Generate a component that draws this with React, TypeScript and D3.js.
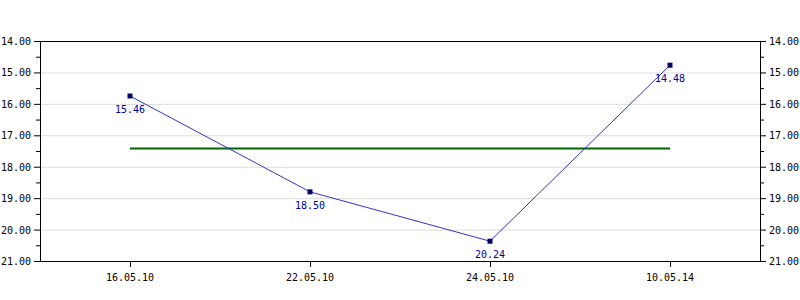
import React from "react";
import * as d3 from "d3";

const categories = ["16.05.10", "22.05.10", "24.05.10", "10.05.14"];
const values = [15.75, 18.8, 20.37, 14.77];
const pointLabels = ["15.46", "18.50", "20.24", "14.48"];
const yTicks = [14, 15, 16, 17, 18, 19, 20, 21];
const yMinorTicks = [14.5, 15.5, 16.5, 17.5, 18.5, 19.5, 20.5];

const W = 800;
const H = 300;
const M = { left: 40, right: 40, top: 41, bottom: 39 };

export default function App() {
  const x = d3
    .scalePoint<string>()
    .domain(categories)
    .range([M.left, W - M.right])
    .padding(0.5);
  const y = d3.scaleLinear().domain([14, 21]).range([M.top, H - M.bottom]);
  const line = d3
    .line<number>()
    .x((_, i) => x(categories[i]) as number)
    .y((d) => y(d));
  const avg = d3.mean(values) as number;
  const font = "'DejaVu Sans Mono', monospace";
  const x0 = M.left;
  const x1 = W - M.right;
  const yb = H - M.bottom;

  return (
    <svg
      width={W}
      height={H}
      style={{ position: "absolute", left: 0, top: 0, background: "#fff" }}
      fontFamily={font}
      fontSize={10}
    >
      {yTicks.slice(1, -1).map((t) => (
        <line key={"g" + t} x1={x0} x2={x1} y1={y(t) + 0.5} y2={y(t) + 0.5} stroke="#dcdcdc" />
      ))}
      {/* frame */}
      <line x1={x0 + 0.5} x2={x0 + 0.5} y1={M.top} y2={yb} stroke="#000" />
      <line x1={x1 + 0.5} x2={x1 + 0.5} y1={M.top} y2={yb} stroke="#000" />
      <line x1={x0} x2={x1 + 1} y1={M.top + 0.5} y2={M.top + 0.5} stroke="#000" />
      <line x1={x0} x2={x1 + 1} y1={yb + 0.5} y2={yb + 0.5} stroke="#000" />
      {yTicks.map((t) => (
        <g key={"t" + t}>
          <line x1={x0 - 6} x2={x0} y1={y(t) + 0.5} y2={y(t) + 0.5} stroke="#000" />
          <line x1={x1} x2={x1 + 6} y1={y(t) + 0.5} y2={y(t) + 0.5} stroke="#000" />
          <text x={x0 - 9} y={y(t) + 4} textAnchor="end" fill="#000">
            {t.toFixed(2)}
          </text>
          <text x={x1 + 9} y={y(t) + 4} textAnchor="start" fill="#000">
            {t.toFixed(2)}
          </text>
        </g>
      ))}
      {yMinorTicks.map((t) => (
        <g key={"m" + t}>
          <line x1={x0 - 4} x2={x0} y1={y(t) + 0.5} y2={y(t) + 0.5} stroke="#000" />
          <line x1={x1} x2={x1 + 4} y1={y(t) + 0.5} y2={y(t) + 0.5} stroke="#000" />
        </g>
      ))}
      {categories.map((c) => (
        <g key={c}>
          <line x1={(x(c) as number) + 0.5} x2={(x(c) as number) + 0.5} y1={yb} y2={yb + 6} stroke="#000" />
          <text x={x(c) as number} y={yb + 20} textAnchor="middle" fill="#000">
            {c}
          </text>
        </g>
      ))}
      <line
        x1={x(categories[0]) as number}
        x2={x(categories[categories.length - 1]) as number}
        y1={y(avg)}
        y2={y(avg)}
        stroke="#006400"
        strokeWidth={2}
      />
      <path d={line(values) as string} fill="none" stroke="#3333cc" strokeWidth={1} />
      {values.map((v, i) => (
        <g key={"p" + i}>
          <rect x={(x(categories[i]) as number) - 2.5} y={y(v) - 2.5} width={5} height={5} fill="#000066" />
          <text x={x(categories[i]) as number} y={y(v) + 17} textAnchor="middle" fill="#000099">
            {pointLabels[i]}
          </text>
        </g>
      ))}
    </svg>
  );
}
